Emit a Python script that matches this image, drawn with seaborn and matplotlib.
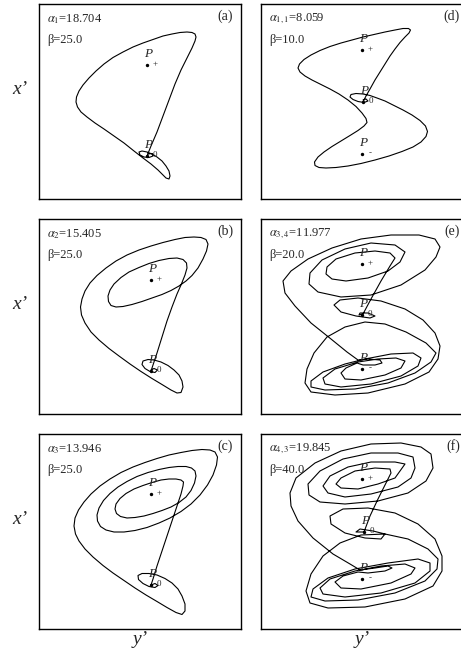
import matplotlib
matplotlib.use("Agg")
import matplotlib.pyplot as plt
import seaborn as sns

sns.set_style("white")
plt.rcParams["font.family"] = ["Liberation Serif", "DejaVu Serif"]
plt.rcParams["mathtext.fontset"] = "stix"

# ---- trajectories (y', x') in panel units: x to the right, y down from panel top ----
a_curve = [(108,152),(112,142),(118,128),(124,112),(130,96),(136,80),(142,66),(148,54),(153,44),(156,37),
           (157,33),(156,30),(153,28.5),(148,28),(141,28.5),(133,30),(124,32),(114,35.5),(104,39),(94,43),
           (84,48),(74,53.5),(65,60),(57,67),(50,74),(44,81),(40,87),(37.5,93),(37,98),(38.5,103),(42,108),
           (48,113),(56,119),(65,125),(75,132),(85,139),(95,147),(104,154),(112,160),(119,166),(124,171),
           (127,174),(130,175),(131,172),(130,167),(127,162),(123,157),(118,153),(113,150),(108,148),
           (103,147),(100,148),(101,151),(105,153),(110,153.5),(114,152),(113,149.5),(109,150)]

b_curve = [(112,152),(114,146),(118,134),(123,118),(128,102),(133,88),(138,75),(142,66),(146,56),(148,49),
           (147.5,44),(144,40.5),(138,39),(130,39.5),(120,41.5),(110,44.5),(100,48.5),(90,53),(82,58.5),
           (75,65),(71,71),(69,77),(69.5,82.5),(72,86.5),(77,88),(84,87.5),(93,85.5),(103,82.5),(113,79),
           (123,75.5),(132,71.5),(140,67),(147,62),(153,56.5),(159,49),(164,40),(167.5,32),(169,25),
           (167,20.5),(162,18.5),(155,18),(146,18.5),(136,20.5),(124,23.5),(112,27),(100,31),(88,36),
           (77,42),(67,49),(58,56.5),(51,64),(46,72),(43,80),(41.5,88),(42.5,96),(46,104),(52,113),(60,121),
           (70,129.5),(80,137),(91,145),(102,152.5),(113,159.5),(123,165.5),(132,171),(138,174),(142,173.5),
           (144,168),(143,162),(140,156),(135,151),(129,146.5),(122,143),(115,141),(109,140.5),(104,142),
           (103,145.5),(106,149.5),(111,152.5),(116,153.5),(118.5,151),(115,149.5),(112,151)]

c_curve = [(112,151),(114,145),(118,132),(123,117),(128,102),(133,87),(138,72),(142,60),(144,52),(144.5,48),
           (142,46),(137,45),(130,45),(122,46),(113,48.5),(104,51.5),(95,55),(87,59.5),(81,64.5),(77,70),
           (76,75),(77.5,79.5),(81.5,82.5),(88,84),(96,83.5),(105,82),(114,79.5),(123,76.5),(132,73),
           (140,68.5),(147,63),(152,56.5),(155.5,49),(157,42),(156,37),(152.5,34),(147,32.5),(139,32.5),
           (130,33.5),(120,35.5),(109,38.5),(98,42.5),(88,47.5),(79,53),(71,59.5),(64.5,66.5),(60,74),
           (58,81),(58.5,87),(61.5,92.5),(67,96),(75,98),(85,98),(96,96.5),(108,93.5),(120,89),(131,84),
           (142,77.5),(152,70),(161,61),(168.5,51),(174,41),(177.5,31),(178.5,23),(176,18),(171,16),
           (163,15.5),(153,16.5),(142,18.5),(130,21),(118,24.5),(106,28.5),(94,33),(82,38.5),(71,45),
           (61,52),(52,60),(45,68),(39.5,76),(36,84),(35,92),(36.5,100),(40,107),(46,115),(54,123),
           (64,131.5),(74,139),(85,146.5),(96,154),(107,161),(118,167.5),(128,173.5),(137,178.5),
           (143,180.5),(146,177),(146,170),(143,162),(139,155),(133,149),(126,144.5),(118,141),(110,139.5),
           (103,139.5),(99,141.5),(99.5,145.5),(104,149.5),(110,152.5),(116,153.5),(119,151.5),(116,149.5),
           (112,151)]

d_curve = [(102,98),(105,92),(109,85),(114,76),(119,68),(124,60),(129,52),(134,45),(139,38.5),(144,33),
           (148,29),(149.5,26),(147.5,24.5),(142,24.5),(134,26),(124,28),(113,30.5),(102,33),(91,36),(80,39),
           (69,42.5),(59,46.5),(50,51),(43,55.5),(38.5,60),(37,64),(39,68),(44,72),(51,76),(60,80.5),(69,85),
           (78,90),(87,96),(95,102.5),(101,109),(105,114.5),(106,118.5),(103,122),(97,126.5),(89,131.5),
           (80,137),(71,142.5),(63,148),(57,153),(53.5,158),(54,161.5),(58,163.5),(65,164),(75,163.5),
           (87,162),(100,159.5),(114,156),(128,152),(141,147.5),(152,143),(160,138),(165,132.5),(166.5,127.5),
           (164.5,122),(159,116.5),(151,111),(142,106),(133,101.5),(124,97),(116,94),(109,91.5),(102,90),
           (95,89.5),(90,90.5),(89,93),(92,95.5),(97,97.5),(103,98.5),(107,97),(105,95),(102,96)]

e_curve = [(102,95),(110,80),(120,62),(129,47),(134,39),(129,34),(114,32),(94,34),(75,40),(66,48),(65,55),
           (71,60),(85,62),(107,59),(127,52),(139,43),(144,33),(134,26),(110,24),(84,30),(61,41),(49,54),
           (48,65),(57,73),(80,78),(110,76),(140,66),(164,51),(175,38),(179,28),(174,20),(158,16),(130,16),
           (100,20),(71,29),(47,40),(30,52),(22,62),(24,74),(34,87),(50,104),(70,120),(86,133),(97,141),
           (107,140),(119,141),(121,144),(114,146),(102,146),(96,144),
           (85,149),(80,154),(84,160),(100,161),(124,156),(140,149),(144,142),(135,139),(117,140),(97,143),
           (74,150),(62,159),(64,165),(80,168),(110,165),(140,157),(157,147),(160,139),(152,134),(130,135),
           (104,140),(84,145),
           (62,153),(50,162),(50,168),(64,171),(94,170),(127,164),(154,154),(170,143),(175,134),
           (165,124),(145,113),(124,105),(104,103),(84,108),(66,118),(53,134),(46,150),(44,164),(50,173),
           (74,176),(107,174),(144,165),(168,153),(177,140),(179,127),(174,114),(162,101),(144,90),(120,82),
           (97,79),(79,81),(73,86),(80,93),(95,97),(109,99),(114,97),(107,94),(99,94),(98,96),(102,95)]

f_curve = [(103,98),(109,82),(117,65),(125,49),(130,39),(129,35),(114,34),(94,37),(80,44),(75,50),(80,54),
           (97,55),(117,50),(134,44),(139,37),(144,30),(134,28),(110,28),(87,33),(69,42),(62,52),(67,59),
           (84,63),(110,60),(137,53),(150,44),(154,34),(152,23),(137,19),(110,19),(82,25),(59,37),(47,50),
           (48,61),(59,68),(84,70),(117,67),(147,59),(165,47),(172,34),(170,20),(160,13),(140,9),(110,10),
           (80,17),(54,29),(35,44),(29,59),(30,72),(37,87),(52,104),(72,120),(89,130),(99,136),
           (114,134),(127,132),(131,134),(124,137),(107,139),(97,138),
           (82,142),(74,148),(80,154),(100,155),(130,149),(150,140),(154,134),(144,130),(120,132),(94,137),
           (69,145),(59,154),(62,160),(84,163),(120,159),(154,149),(169,137),(169,129),(157,125),(127,129),
           (94,135),(67,144),(52,155),(50,163),(64,167),(97,166),(134,159),(164,147),(176,135),(177,125),
           (167,115),(147,105),(124,100),(100,101),(79,109),(62,122),(50,140),(45,157),(49,169),(67,174),
           (104,173),(144,165),(172,152),(181,137),(181,122),(174,105),(157,90),(134,79),(107,74),(82,75),
           (69,82),(70,90),(84,99),(104,104),(120,105),(124,100),(112,97),(99,95),(95,98),(103,98)]

alpha_labels = [r"$\alpha_1$=18.704", r"$\alpha_2$=15.405", r"$\alpha_3$=13.946",
                r"$\alpha_{1,1}$=8.059", r"$\alpha_{3,4}$=11.977", r"$\alpha_{4,3}$=19.845"]
beta_labels = ["β=25.0", "β=25.0", "β=25.0", "β=10.0", "β=20.0", "β=40.0"]
panel_tags = ["(a)", "(b)", "(c)", "(d)", "(e)", "(f)"]

# equilibrium points per panel: P+, P0, (P-)
a_pts = [(108, 61), (108, 152)]
b_pts = [(112, 61), (112, 152)]
c_pts = [(112, 60), (112, 151)]
d_pts = [(101, 46), (102, 98), (101, 150)]
e_pts = [(101, 45), (101, 96), (101, 150)]
f_pts = [(101, 45), (103, 98), (101, 145)]
pt_subs_2 = ["+", "0"]
pt_subs_3 = ["+", "0", "-"]

W, H = 461, 660
fig = plt.figure(figsize=(W / 100, H / 100), dpi=100)

col_left = [39, 261]
row_top = [4, 219, 434]
pw, ph = 202, 195

panels = [
    (0, 0, a_curve, a_pts, pt_subs_2),
    (0, 1, b_curve, b_pts, pt_subs_2),
    (0, 2, c_curve, c_pts, pt_subs_2),
    (1, 0, d_curve, d_pts, pt_subs_3),
    (1, 1, e_curve, e_pts, pt_subs_3),
    (1, 2, f_curve, f_pts, pt_subs_3),
]

for i, (c, r, curve, pts, subs) in enumerate(panels):
    left = col_left[c] / W
    bottom = 1 - (row_top[r] + ph) / H
    ax = fig.add_axes([left, bottom, pw / W, ph / H])
    xs = [p[0] for p in curve]
    ys = [p[1] for p in curve]
    sns.lineplot(x=xs, y=ys, sort=False, estimator=None, color="black",
                 linewidth=0.8, ax=ax)
    for ln in ax.lines:
        ln.set_solid_joinstyle("round")
    px = [p[0] for p in pts]
    py = [p[1] for p in pts]
    sns.scatterplot(x=px, y=py, color="black", s=6, linewidth=0, ax=ax, zorder=5)
    for (x0, y0), s in zip(pts, subs):
        ax.text(x0 + 1, y0 - 5, "P", style="italic", fontsize=9.5, ha="center",
                va="bottom")
        ax.text(x0 + 8, y0 - 1, s, fontsize=6.5, ha="center", va="center")
    ax.set_xlim(0, pw)
    ax.set_ylim(ph, 0)
    ax.set_xticks([])
    ax.set_yticks([])
    ax.set_xlabel("")
    ax.set_ylabel("")
    for sp in ax.spines.values():
        sp.set_visible(True)
        sp.set_color("black")
        sp.set_linewidth(1.0)
    ax.text(8, 15, alpha_labels[i], fontsize=9, ha="left", va="center")
    ax.text(8, 36, beta_labels[i], fontsize=9, ha="left", va="center")
    ax.text(194 if c == 0 else 199, 12, panel_tags[i], fontsize=10, ha="right",
            va="center")

for yc in [89, 304, 519]:
    fig.text(20 / W, 1 - yc / H, "x’", style="italic", fontsize=14,
             ha="center", va="center")
for xc in [140, 362]:
    fig.text(xc / W, 1 - 640 / H, "y’", style="italic", fontsize=14,
             ha="center", va="center")

fig.savefig("out.png", dpi=100)
